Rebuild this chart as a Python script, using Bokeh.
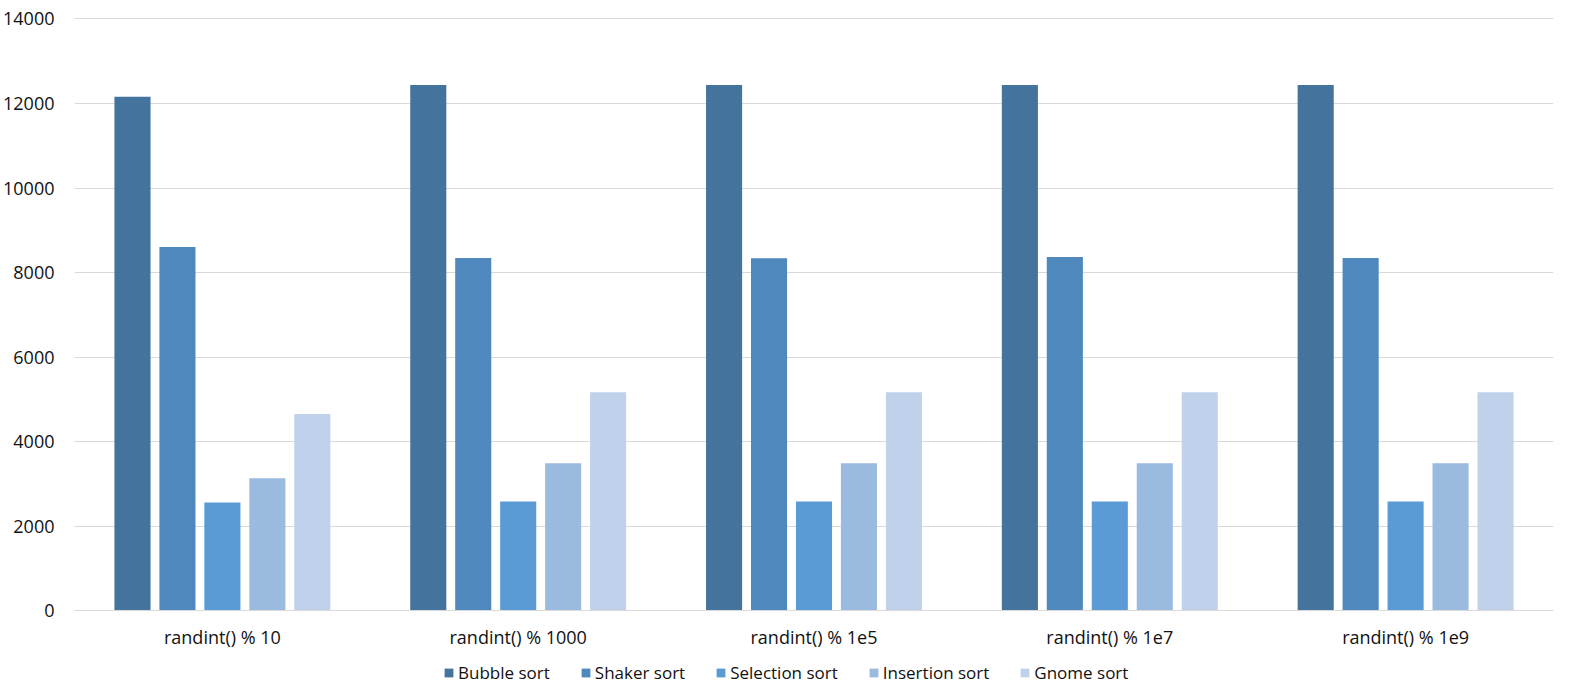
from bokeh.plotting import figure
from bokeh.models import ColumnDataSource, FactorRange, Range1d, Legend, LegendItem, FixedTicker
from bokeh.transform import dodge
from bokeh.embed import file_html
from bokeh.resources import INLINE

categories = ["randint() % 10", "randint() % 1000", "randint() % 1e5", "randint() % 1e7", "randint() % 1e9"]
series_names = ["Bubble sort", "Shaker sort", "Selection sort", "Insertion sort", "Gnome sort"]
bubble = [12160, 12440, 12440, 12440, 12440]
shaker = [8605, 8345, 8340, 8370, 8345]
selection = [2565, 2590, 2590, 2590, 2590]
insertion = [3135, 3490, 3490, 3490, 3490]
gnome = [4660, 5170, 5170, 5170, 5170]
y_ticks = [0, 2000, 4000, 6000, 8000, 10000, 12000, 14000]

colors = ["#44739E", "#4E88BC", "#5B9BD5", "#9BBAE0", "#C0D2EB"]
keys = ["bubble", "shaker", "selection", "insertion", "gnome"]

source = ColumnDataSource(dict(cat=categories, bubble=bubble, shaker=shaker,
                               selection=selection, insertion=insertion, gnome=gnome))

FONT = "Open Sans"
TXT = "#111111"

# frame extends below zero so that category labels and legend live inside it
p = figure(x_range=FactorRange(*categories), y_range=Range1d(-1740, 14035),
           frame_width=1479, frame_height=667,
           min_border_left=74, min_border_right=2, min_border_top=17, min_border_bottom=0,
           output_backend="svg", toolbar_location=None, tools="")
p.outline_line_color = None
p.background_fill_color = "white"
p.border_fill_color = "white"

slot = 0.152
bw = 0.122
offsets = [-2 * slot, -slot, 0.0, slot, 2 * slot]
renderers = []
for k, off, c in zip(keys, offsets, colors):
    r = p.vbar(x=dodge("cat", off, range=p.x_range), top=k, width=bw, source=source,
               fill_color=c, line_color=None)
    renderers.append(r)

p.yaxis.ticker = FixedTicker(ticks=y_ticks)
p.yaxis.axis_line_color = None
p.yaxis.major_tick_line_color = None
p.yaxis.minor_tick_line_color = None
p.yaxis.major_label_standoff = 14
p.yaxis.major_label_text_font = FONT
p.yaxis.major_label_text_font_size = "18px"
p.yaxis.major_label_text_color = TXT

p.xaxis.fixed_location = 0
p.xaxis.axis_line_color = "#D9D9D9"
p.xaxis.major_tick_line_color = None
p.xaxis.minor_tick_line_color = None
p.xaxis.major_label_standoff = 8
p.xaxis.major_label_text_font = FONT
p.xaxis.major_label_text_font_size = "18px"
p.xaxis.major_label_text_color = TXT

p.xgrid.grid_line_color = None
p.ygrid.grid_line_color = "#D9D9D9"
p.ygrid.ticker = FixedTicker(ticks=y_ticks)

legend = Legend(items=[LegendItem(label=n, renderers=[r]) for n, r in zip(series_names, renderers)],
                orientation="horizontal", location=(369, 0),
                label_text_font=FONT, label_text_font_size="17px", label_text_color=TXT,
                glyph_width=11, glyph_height=11, label_standoff=4, spacing=30,
                border_line_color=None, background_fill_alpha=0, padding=2, margin=0)
p.add_layout(legend, "center")

open("out.html", "w").write(file_html(p, INLINE))
